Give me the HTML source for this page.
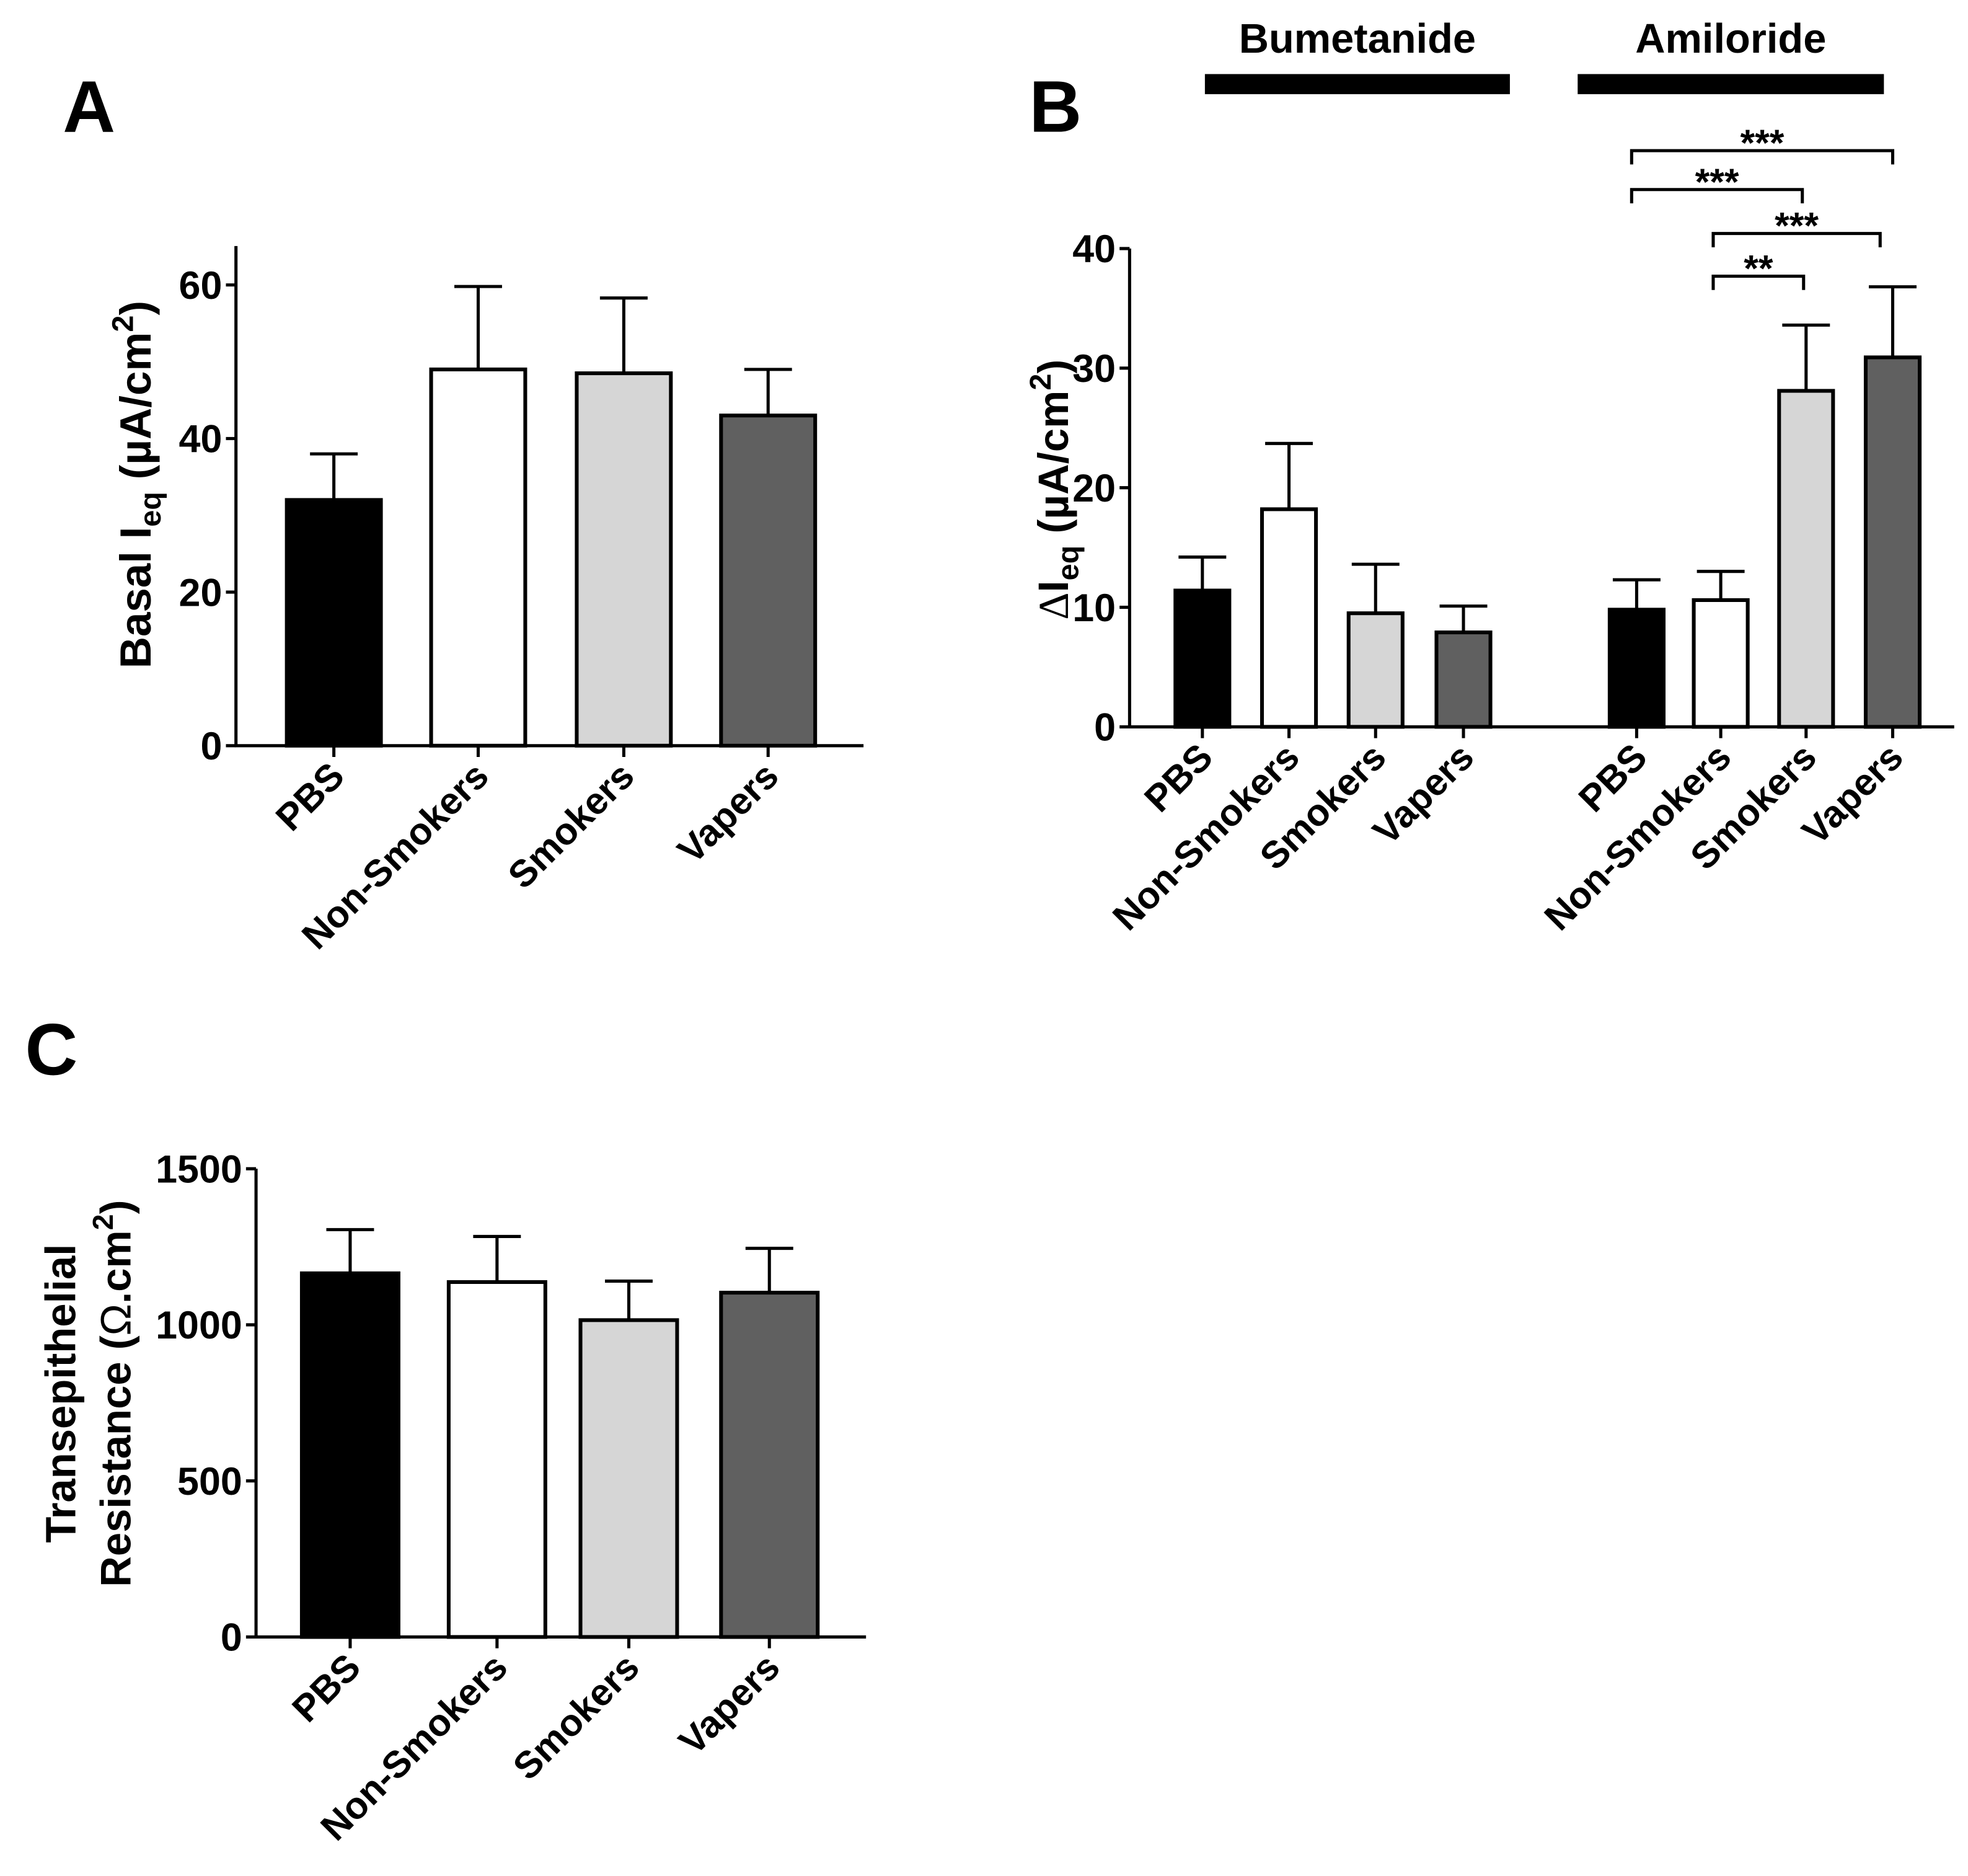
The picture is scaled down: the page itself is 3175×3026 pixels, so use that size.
<!DOCTYPE html>
<html><head><meta charset="utf-8"><style>
html,body{margin:0;padding:0;background:#fff}
svg{display:block}
text{font-family:"Liberation Sans",Arial,sans-serif;font-weight:bold;fill:#000}
</style></head><body>
<svg id="fig" width="3175" height="3026" viewBox="0 0 1568 1494.4" preserveAspectRatio="none" xmlns="http://www.w3.org/2000/svg">
<text x="50" y="105" font-size="58">A</text>
<text x="820" y="105" font-size="58">B</text>
<text x="20" y="856" font-size="58">C</text>
<g id="gA"></g>
<g id="gB"></g>
<g id="gC"></g>
</svg>
<script>
const groups = ["PBS","Non-Smokers","Smokers","Vapers"];
const fills = ["#000000","#ffffff","#d6d6d6","#606060"];
const aValues = [32, 49, 48.5, 43];
const aErrors = [38, 59.8, 58.3, 49];
const aTicks = [0, 20, 40, 60];
const bValues = [11.4, 18.2, 9.5, 7.9, 9.8, 10.6, 28.1, 30.9];
const bErrors = [14.2, 23.7, 13.6, 10.1, 12.3, 13.0, 33.6, 36.8];
const bTicks = [0, 10, 20, 30, 40];
const cValues = [1165, 1137, 1015, 1103];
const cErrors = [1305, 1283, 1140, 1245];
const cTicks = [0, 500, 1000, 1500];
const NS = "http://www.w3.org/2000/svg";
function mk(parent, tag, attrs, txt){
  const e = document.createElementNS(NS, tag);
  for (const k in attrs) e.setAttribute(k, attrs[k]);
  if (txt !== undefined) e.textContent = txt;
  parent.appendChild(e); return e;
}
function panel(g, cfg){
  const y = v => cfg.y0 - (v - 0) / cfg.max * (cfg.y0 - cfg.yTop);
  const ya = mk(g,'line',{x1:cfg.ax,y1:cfg.axTop,x2:cfg.ax,y2:cfg.y0+1,stroke:'#000','stroke-width':2.5});
  
  
  const xa = mk(g,'line',{x1:cfg.ax-1,y1:cfg.y0,x2:cfg.axEnd,y2:cfg.y0,stroke:'#000','stroke-width':2.5});
  
  
  cfg.ticks.forEach(t=>{
    mk(g,'line',{x1:cfg.ax-8,y1:y(t),x2:cfg.ax,y2:y(t),stroke:'#000','stroke-width':2.5});
    const tl = mk(g,'text',{x:cfg.ax-11,y:y(t)+11,'font-size':31,'text-anchor':'end'}, String(t));
    
    
  });
  cfg.values.forEach((v,i)=>{
    const cx = cfg.centers[i], w = cfg.bw;
    const top = y(v), et = y(cfg.errors[i]);
    const eb = mk(g,'line',{x1:cx,y1:et,x2:cx,y2:top,stroke:'#000','stroke-width':2.5});
    
    
    mk(g,'line',{x1:cx-cfg.cap,y1:et,x2:cx+cfg.cap,y2:et,stroke:'#000','stroke-width':2.5});
    const r = mk(g,'rect',{x:cx-w/2,y:top,width:w,height:cfg.y0-top,fill:fills[i%4],stroke:'#000','stroke-width':3});
    
    
    mk(g,'line',{x1:cx,y1:cfg.y0,x2:cx,y2:cfg.y0+9,stroke:'#000','stroke-width':2.5});
    const lab = mk(g,'text',{x:0,y:0,'font-size':30,'text-anchor':'end',transform:`translate(${cx+10},${cfg.y0+26}) rotate(-45)`}, groups[i%4]);
    
    
  });
}
panel(document.getElementById('gA'), {id:'a', ax:188, axTop:196, axEnd:688, y0:594, yTop:227, max:60,
  ticks:aTicks, values:aValues, errors:aErrors, centers:[266,381,497,612], bw:75, cap:19});
const gA = document.getElementById('gA');
const ta = mk(gA,'text',{x:0,y:0,'font-size':35,'text-anchor':'middle',transform:'translate(120,386) rotate(-90)'});


ta.innerHTML = 'Basal I<tspan font-size="24" dy="8">eq</tspan><tspan dy="-8"> (µA/cm</tspan><tspan font-size="24" dy="-14">2</tspan><tspan dy="14">)</tspan>';
panel(document.getElementById('gB'), {id:'b', ax:900, axTop:198, axEnd:1557, y0:579, yTop:198, max:40,
  ticks:bTicks, values:bValues, errors:bErrors, centers:[958,1027,1096,1166,1304,1371,1439,1508], bw:43, cap:19});
const gB = document.getElementById('gB');
const tb = mk(gB,'text',{x:0,y:0,'font-size':34,'text-anchor':'middle',transform:'translate(851,390) rotate(-90)'});


tb.innerHTML = '<tspan font-family="Liberation Serif" font-weight="normal">Δ</tspan>I<tspan font-size="24" dy="8">eq</tspan><tspan dy="-8"> (µA/cm</tspan><tspan font-size="24" dy="-14">2</tspan><tspan dy="14">)</tspan>';
const treat = [["Bumetanide",960,1203],["Amiloride",1257,1501]];
treat.forEach(t=>{
  const r = mk(gB,'rect',{x:t[1],y:59,width:t[2]-t[1],height:16,fill:'#000'});
  
  
  const tx = mk(gB,'text',{x:(t[1]+t[2])/2,y:42,'font-size':33,'text-anchor':'middle'}, t[0]);
  
  
});
const sig = [[1300,1508,120,'***'],[1300,1436,151,'***'],[1365,1498,186,'***'],[1365,1437,220,'**']];
sig.forEach(s=>{
  const p = mk(gB,'path',{d:`M${s[0]},${s[2]+11}V${s[2]}H${s[1]}V${s[2]+11}`,fill:'none',stroke:'#000','stroke-width':2.5});
  
  
  const t = mk(gB,'text',{x:(s[0]+s[1])/2,y:s[2]+4,'font-size':30,'text-anchor':'middle'}, s[3]);
  
  
});
panel(document.getElementById('gC'), {id:'c', ax:204, axTop:931, axEnd:690, y0:1304, yTop:931, max:1500,
  ticks:cTicks, values:cValues, errors:cErrors, centers:[279,396,501,613], bw:77, cap:19});
const gC = document.getElementById('gC');
const tc1 = mk(gC,'text',{x:0,y:0,'font-size':34,'text-anchor':'middle',transform:'translate(60,1110) rotate(-90)'}, 'Transepithelial');


const tc2 = mk(gC,'text',{x:0,y:0,'font-size':34,'text-anchor':'middle',transform:'translate(104,1110) rotate(-90)'});


tc2.innerHTML = 'Resistance (<tspan font-weight="normal">Ω</tspan>.cm<tspan font-size="23" dy="-14">2</tspan><tspan dy="14">)</tspan>';
</script>
</body></html>
